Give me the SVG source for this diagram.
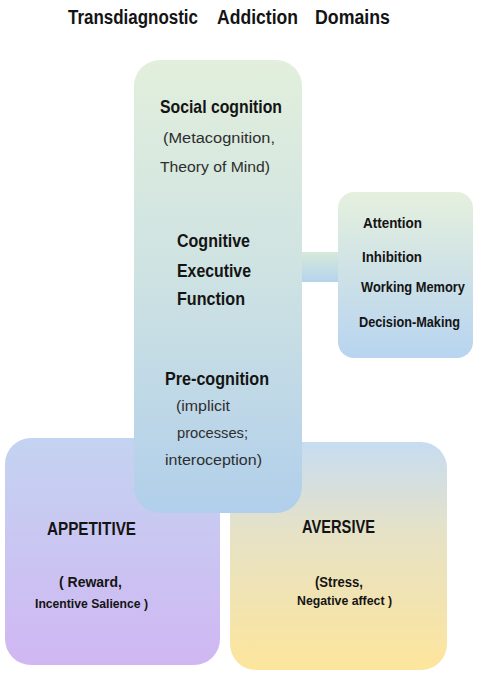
<svg xmlns="http://www.w3.org/2000/svg" width="478" height="675" viewBox="0 0 478 675">
<defs>
<linearGradient id="gMain" x1="0" y1="0" x2="0" y2="1">
<stop offset="0" stop-color="#e2efdc"/>
<stop offset="0.45" stop-color="#cfe3e2"/>
<stop offset="1" stop-color="#b1cfeb"/>
</linearGradient>
<linearGradient id="gRight" x1="0" y1="0" x2="0" y2="1">
<stop offset="0" stop-color="#e5f0de"/>
<stop offset="0.5" stop-color="#cde1e6"/>
<stop offset="1" stop-color="#b8d4f0"/>
</linearGradient>
<linearGradient id="gBar" x1="0" y1="0" x2="0" y2="1">
<stop offset="0" stop-color="#d6e9da"/>
<stop offset="1" stop-color="#b6d3ee"/>
</linearGradient>
<linearGradient id="gApp" x1="0" y1="0" x2="0" y2="1">
<stop offset="0" stop-color="#c4d3f1"/>
<stop offset="1" stop-color="#d0b7f3"/>
</linearGradient>
<linearGradient id="gAve" x1="0" y1="0" x2="0" y2="1">
<stop offset="0" stop-color="#c7dcf2"/>
<stop offset="0.4" stop-color="#e6e2c6"/>
<stop offset="1" stop-color="#fde59c"/>
</linearGradient>
</defs>
<style>
text{font-family:"Liberation Sans","DejaVu Sans",sans-serif;fill:#141414}
.h{font-weight:bold;font-size:18.5px}
.tt{font-weight:bold;font-size:20px}
.r{font-size:15.5px;fill:#2e2e2e}
.s{font-weight:bold;font-size:14.5px}
.t{font-weight:bold;font-size:13.5px}
</style>
<rect width="478" height="675" fill="#ffffff"/>
<g id="title">
<text x="68" y="24" class="tt" textLength="130" lengthAdjust="spacingAndGlyphs">Transdiagnostic</text>
<text x="217" y="24" class="tt" textLength="81" lengthAdjust="spacingAndGlyphs">Addiction</text>
<text x="315" y="24" class="tt" textLength="75" lengthAdjust="spacingAndGlyphs">Domains</text>
</g>

<g id="appetitive">
<rect x="5" y="438" width="215" height="227" rx="26" fill="url(#gApp)"/>
<text x="47" y="535" class="h" textLength="89" lengthAdjust="spacingAndGlyphs">APPETITIVE</text>
<text x="59" y="587" class="s" textLength="63" lengthAdjust="spacingAndGlyphs">( Reward,</text>
<text x="35" y="608" class="t" textLength="113" lengthAdjust="spacingAndGlyphs">Incentive Salience )</text>
</g>

<g id="aversive">
<rect x="230" y="442" width="217" height="228" rx="26" fill="url(#gAve)"/>
<text x="302" y="533" class="h" textLength="73" lengthAdjust="spacingAndGlyphs">AVERSIVE</text>
<text x="315" y="587" class="s" textLength="48" lengthAdjust="spacingAndGlyphs">(Stress,</text>
<text x="297" y="605" class="t" textLength="95" lengthAdjust="spacingAndGlyphs">Negative affect )</text>
</g>

<g id="connectors">
<rect x="298" y="252" width="44" height="30" fill="url(#gBar)"/>
</g>

<g id="cognition">
<rect x="134" y="60" width="168" height="453" rx="26" fill="url(#gMain)"/>
<text x="160" y="113" class="h" textLength="122" lengthAdjust="spacingAndGlyphs">Social cognition</text>
<text x="163" y="143" class="r" textLength="112" lengthAdjust="spacingAndGlyphs">(Metacognition,</text>
<text x="160" y="172" class="r" textLength="110" lengthAdjust="spacingAndGlyphs">Theory of Mind)</text>
<text x="177" y="247" class="h" textLength="73" lengthAdjust="spacingAndGlyphs">Cognitive</text>
<text x="177" y="277" class="h" textLength="74" lengthAdjust="spacingAndGlyphs">Executive</text>
<text x="177" y="305" class="h" textLength="68" lengthAdjust="spacingAndGlyphs">Function</text>
<text x="165" y="385" class="h" textLength="104" lengthAdjust="spacingAndGlyphs">Pre-cognition</text>
<text x="176" y="411" class="r" textLength="54" lengthAdjust="spacingAndGlyphs">(implicit</text>
<text x="177" y="438" class="r" textLength="71" lengthAdjust="spacingAndGlyphs">processes;</text>
<text x="165" y="465" class="r" textLength="97" lengthAdjust="spacingAndGlyphs">interoception)</text>
</g>

<g id="executive-components">
<rect x="338" y="192" width="135" height="166" rx="16" fill="url(#gRight)"/>
<text x="363" y="228" class="s" textLength="59" lengthAdjust="spacingAndGlyphs">Attention</text>
<text x="362" y="262" class="s" textLength="60" lengthAdjust="spacingAndGlyphs">Inhibition</text>
<text x="361" y="292" class="s" textLength="104" lengthAdjust="spacingAndGlyphs">Working Memory</text>
<text x="359" y="327" class="s" textLength="101" lengthAdjust="spacingAndGlyphs">Decision-Making</text>
</g>
</svg>
